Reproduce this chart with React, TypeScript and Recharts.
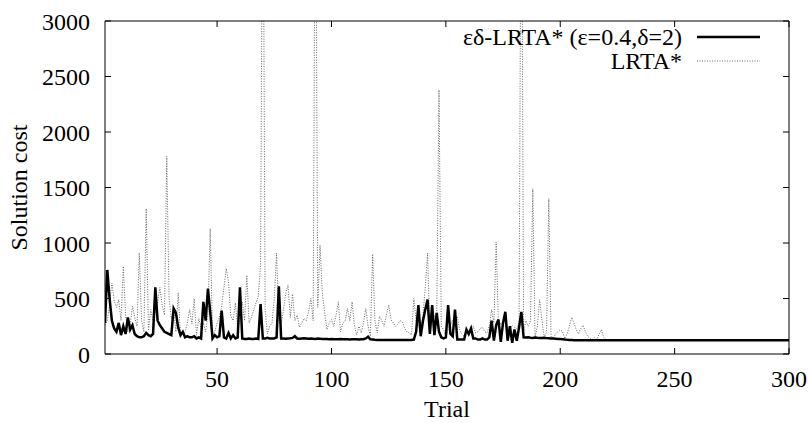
import React from "react";
import { Label, Legend, Line, LineChart, XAxis, YAxis } from "recharts";

// trial index on the x axis
const trials = Array.from({ length: 300 }, (_, i) => i + 1);

// εδ-LRTA* (ε=0.4, δ=2), solution cost per trial
const epsDeltaCost = [
  280, 757, 500, 300, 230, 200, 280, 170, 250, 180,
  330, 220, 260, 180, 160, 150, 150, 160, 190, 170,
  160, 180, 600, 300, 260, 230, 200, 190, 180, 170,
  410, 370, 240, 170, 200, 150, 160, 150, 150, 160,
  140, 150, 140, 470, 300, 590, 380, 140, 170, 150,
  160, 390, 150, 140, 190, 140, 170, 140, 150, 600,
  140, 135, 135, 140, 135, 135, 140, 135, 450, 140,
  140, 145, 140, 140, 140, 150, 610, 140, 140, 138,
  140, 142, 145, 160, 140, 138, 140, 142, 140, 138,
  140, 138, 136, 140, 138, 136, 135, 136, 134, 135,
  132, 133, 132, 134, 132, 133, 132, 131, 132, 133,
  132, 131, 132, 133, 140, 155, 132, 130, 128, 127,
  126, 126, 127, 126, 126, 126, 127, 126, 126, 126,
  126, 126, 126, 127, 126, 130, 200, 440, 160, 300,
  400, 490, 180, 440, 170, 370, 200, 150, 140, 150,
  440, 180, 160, 400, 130, 130, 130, 130, 220, 180,
  230, 140, 140, 130, 130, 140, 130, 130, 150, 300,
  120, 260, 310, 110, 280, 380, 120, 250, 100, 220,
  120, 240, 380, 150, 148, 150, 146, 145, 148, 146,
  145, 144, 146, 143, 142, 140, 140, 138, 136, 135,
  133, 130, 128, 127, 126, 125, 125, 125, 125, 125,
  125, 125, 125, 125, 125, 125, 125, 125, 125, 125,
  125, 125, 125, 125, 125, 125, 125, 125, 125, 125,
  125, 125, 125, 125, 125, 125, 125, 125, 125, 125,
  125, 125, 125, 125, 125, 125, 125, 125, 125, 125,
  125, 125, 125, 125, 125, 125, 125, 125, 125, 125,
  125, 125, 125, 125, 125, 125, 125, 125, 125, 125,
  125, 125, 125, 125, 125, 125, 125, 125, 125, 125,
  125, 125, 125, 125, 125, 125, 125, 125, 125, 125,
  125, 125, 125, 125, 125, 125, 125, 125, 125, 125,
];

// plain LRTA*, solution cost per trial (spikes past 3000 are guesses)
const lrtaCost = [
  260, 300, 450, 640, 480, 420, 490, 300, 790, 350,
  200, 260, 430, 330, 250, 910, 300, 200, 1310, 210,
  400, 300, 380, 460, 600, 440, 350, 1780, 500, 320,
  380, 200, 550, 160, 170, 200, 280, 400, 270, 500,
  170, 320, 230, 280, 200, 360, 1130, 170, 200, 280,
  330, 430, 600, 770, 650, 340, 300, 460, 230, 300,
  470, 300, 710, 280, 330, 400, 460, 520, 800, 5000,
  400, 180, 250, 280, 500, 910, 300, 260, 400, 550,
  620, 330, 540, 300, 350, 240, 280, 320, 300, 380,
  500, 300, 5000, 420, 980, 550, 380, 220, 280, 310,
  250, 350, 470, 200, 280, 300, 410, 300, 470, 260,
  170, 250, 190, 280, 410, 250, 160, 900, 300, 190,
  340, 300, 250, 350, 440, 310, 280, 250, 270, 300,
  290, 230, 200, 190, 170, 500, 300, 250, 220, 350,
  600, 910, 220, 300, 350, 300, 2380, 250, 220, 160,
  220, 260, 310, 300, 340, 220, 180, 160, 200, 220,
  200, 250, 190, 200, 230, 240, 200, 190, 250, 400,
  280, 1010, 250, 280, 250, 250, 240, 230, 260, 240,
  230, 280, 5000, 200, 300, 250, 300, 1490, 150, 250,
  490, 300, 150, 200, 1400, 150, 150, 180, 200, 220,
  200, 140, 180, 250, 330, 280, 220, 180, 230, 260,
  200, 160, 140, 130, 150, 130, 180, 220, 150, 130,
  126, 125, 125, 125, 125, 125, 125, 125, 125, 125,
  125, 125, 125, 125, 125, 125, 125, 125, 125, 125,
  125, 125, 125, 125, 125, 125, 125, 125, 125, 125,
  125, 125, 125, 125, 125, 125, 125, 125, 125, 125,
  125, 125, 125, 125, 125, 125, 125, 125, 125, 125,
  125, 125, 125, 125, 125, 125, 125, 125, 125, 125,
  125, 125, 125, 125, 125, 125, 125, 125, 125, 125,
  125, 125, 125, 125, 125, 125, 125, 125, 125, 125,
];

const xTicks = [50, 100, 150, 200, 250, 300];
const yTicks = [0, 500, 1000, 1500, 2000, 2500, 3000];
const xDomain: [number, number] = [1, 300];
const yDomain: [number, number] = [0, 3000];

const seriesNames = {
  epsDelta: "εδ-LRTA* (ε=0.4,δ=2)",
  lrta: "LRTA*",
};

const data = trials.map((trial, i) => ({
  trial,
  epsDelta: epsDeltaCost[i],
  lrta: lrtaCost[i],
}));

const FONT = "Liberation Serif, Times New Roman, serif";
const TICK_LEN = 6;
const frame = { stroke: "#000", strokeWidth: 1 };

const lineStyles: Record<string, { stroke: string; width: number; dash?: string }> = {
  epsDelta: { stroke: "#000", width: 2.5 },
  lrta: { stroke: "#666", width: 1, dash: "1 1.5" },
};

const legendOrder = ["epsDelta", "lrta"];

function XTick({ x, y, payload }: any) {
  return (
    <text x={x} y={y} dy="0.71em" textAnchor="middle" fontSize={24} fontFamily={FONT} fill="#000">
      {payload.value}
    </text>
  );
}

function YTick({ x, y, payload }: any) {
  return (
    <text x={x} y={y} dy="0.355em" textAnchor="end" fontSize={24} fontFamily={FONT} fill="#000">
      {payload.value}
    </text>
  );
}

function SeriesKey({ payload }: any) {
  const items = legendOrder
    .map((key) => (payload ?? []).find((p: any) => p.dataKey === key))
    .filter(Boolean);

  return (
    <svg
      width={808}
      height={80}
      style={{ position: "absolute", left: 0, top: 0, overflow: "visible", pointerEvents: "none" }}
    >
      {items.map((item: any, i: number) => {
        const y = 37 + i * 24;
        const st = lineStyles[item.dataKey];
        return (
          <g key={item.dataKey}>
            <text x={682} y={y + 8} textAnchor="end" fontSize={24} fontFamily={FONT} fill="#000">
              {item.value}
            </text>
            <line x1={697} x2={760} y1={y} y2={y} stroke={st.stroke} strokeWidth={st.width} strokeDasharray={st.dash} />
          </g>
        );
      })}
    </svg>
  );
}

function YTitle(props: any) {
  const vb = props.viewBox ?? { x: 0, y: 21, width: 105, height: 333 };
  const cx = vb.x + 27;
  const cy = vb.y + vb.height / 2;
  return (
    <text
      x={cx}
      y={cy}
      transform={`rotate(-90, ${cx}, ${cy})`}
      textAnchor="middle"
      fontSize={24}
      fontFamily={FONT}
      fill="#000"
    >
      Solution cost
    </text>
  );
}

export default function App() {
  return (
    <div style={{ position: "absolute", left: 0, top: 0, width: 808, height: 423, background: "#fff", fontFamily: FONT }}>
      <LineChart width={808} height={423} data={data} margin={{ top: 20, right: 18, bottom: 0, left: 0 }}>
        <XAxis
          dataKey="trial"
          type="number"
          domain={xDomain}
          allowDataOverflow
          ticks={xTicks}
          interval={0}
          tickSize={-TICK_LEN}
          tickMargin={22}
          height={69}
          axisLine={frame}
          tickLine={frame}
          tick={XTick}
        >
          <Label value="Trial" position="insideBottom" offset={6} fontSize={24} fontFamily={FONT} fill="#000" />
        </XAxis>
        {/* mirrored axis: top edge of the box, ticks only */}
        <XAxis
          xAxisId="mirror"
          dataKey="trial"
          orientation="top"
          type="number"
          domain={xDomain}
          allowDataOverflow
          ticks={xTicks}
          interval={0}
          tickSize={-TICK_LEN}
          height={1}
          axisLine={frame}
          tickLine={frame}
          tickFormatter={() => ""}
        />
        <YAxis
          type="number"
          domain={yDomain}
          allowDataOverflow
          ticks={yTicks}
          interval={0}
          tickSize={-TICK_LEN}
          tickMargin={21}
          width={105}
          axisLine={frame}
          tickLine={frame}
          tick={YTick}
        >
          <Label content={YTitle} />
        </YAxis>
        {/* mirrored axis: right edge of the box, ticks only */}
        <YAxis
          yAxisId="mirror"
          orientation="right"
          type="number"
          domain={yDomain}
          allowDataOverflow
          ticks={yTicks}
          interval={0}
          tickSize={-TICK_LEN}
          width={1}
          axisLine={frame}
          tickLine={frame}
          tickFormatter={() => ""}
        />
        <Legend
          verticalAlign="top"
          align="left"
          wrapperStyle={{ left: 0, top: 0, width: 808, height: 0 }}
          content={SeriesKey}
        />
        <Line
          xAxisId="mirror"
          yAxisId="mirror"
          dataKey="lrta"
          name={seriesNames.lrta}
          type="linear"
          stroke={lineStyles.lrta.stroke}
          strokeWidth={lineStyles.lrta.width}
          strokeDasharray={lineStyles.lrta.dash}
          dot={false}
          activeDot={false}
          isAnimationActive={false}
        />
        <Line
          dataKey="epsDelta"
          name={seriesNames.epsDelta}
          type="linear"
          stroke={lineStyles.epsDelta.stroke}
          strokeWidth={lineStyles.epsDelta.width}
          dot={false}
          activeDot={false}
          isAnimationActive={false}
        />
      </LineChart>
    </div>
  );
}
